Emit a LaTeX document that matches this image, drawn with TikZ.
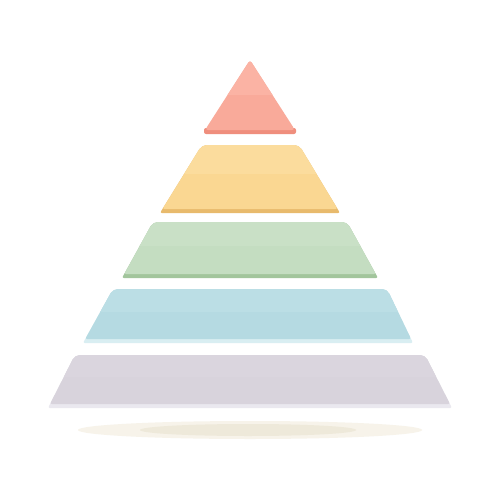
\documentclass[tikz,border=0pt]{standalone}
\usetikzlibrary{calc}
\definecolor{redF}{HTML}{F9AA9A}
\definecolor{redL}{HTML}{FBB3A4}
\definecolor{redS}{HTML}{EF8E7D}
\definecolor{yelF}{HTML}{FAD792}
\definecolor{yelL}{HTML}{FBDC9D}
\definecolor{yelS}{HTML}{E8BA6C}
\definecolor{grnF}{HTML}{C4DDC1}
\definecolor{grnL}{HTML}{C9E0C6}
\definecolor{grnS}{HTML}{A2C59C}
\definecolor{bluF}{HTML}{B5DAE2}
\definecolor{bluL}{HTML}{BBDEE5}
\definecolor{bluS}{HTML}{D9EEF2}
\definecolor{gryF}{HTML}{D8D3DC}
\definecolor{gryL}{HTML}{DAD5DE}
\definecolor{gryS}{HTML}{EAE8EF}
\definecolor{shdO}{HTML}{F7F3EA}
\definecolor{shdI}{HTML}{EEE9DA}
% #1 xtl #2 xtr #3 yt #4 xbl #5 xbr #6 yb #7 face #8 light #9 strip
\newcommand\pyrlayer[9]{%
  \fill[#9] [rounded corners=5pt] (#4,#6) -- (#1,#3) -- (#2,#3) [rounded corners=2pt] -- (#5,#6) -- cycle;
  \coordinate (fl) at ($(#4,#6)!{4/(#6-#3)}!(#1,#3)$);
  \coordinate (fr) at ($(#5,#6)!{4/(#6-#3)}!(#2,#3)$);
  \fill[#7] [rounded corners=5pt] (fl) -- (#1,#3) -- (#2,#3) [rounded corners=2pt] -- (fr) -- cycle;
  \begin{scope}
    \clip [rounded corners=5pt] (fl) -- (#1,#3) -- (#2,#3) [rounded corners=2pt] -- (fr) -- cycle;
    \fill[#8] (0,#3) rectangle (500,{#3+0.42*(#6-#3)});
  \end{scope}
}
\begin{document}
\begin{tikzpicture}[x=1pt,y=-1pt]
  \fill[white] (0,0) rectangle (500,500);
  \useasboundingbox (0,0) rectangle (500,500);
  % shadow
  \fill[shdO] (250,430) ellipse [x radius=172, y radius=9];
  \fill[shdI] (248,430) ellipse [x radius=108, y radius=6];
  % top triangle
  \fill[redS, rounded corners=2pt] (204,128) rectangle (296,134);
  \fill[redF, rounded corners=3pt] (250,60) -- (295,130) -- (205,130) -- cycle;
  \begin{scope}
    \clip[rounded corners=3pt] (250,60) -- (295,130) -- (205,130) -- cycle;
    \fill[redL] (0,60) rectangle (500,95);
  \end{scope}
  % layers
  \pyrlayer{202}{299}{145}{160}{340}{213}{yelF}{yelL}{yelS}
  \pyrlayer{153}{347}{222}{122}{378}{278}{grnF}{grnL}{grnS}
  \pyrlayer{113}{387}{289}{83}{413}{343}{bluF}{bluL}{bluS}
  \pyrlayer{75}{425}{355}{48}{452}{408}{gryF}{gryL}{gryS}
\end{tikzpicture}
\end{document}
